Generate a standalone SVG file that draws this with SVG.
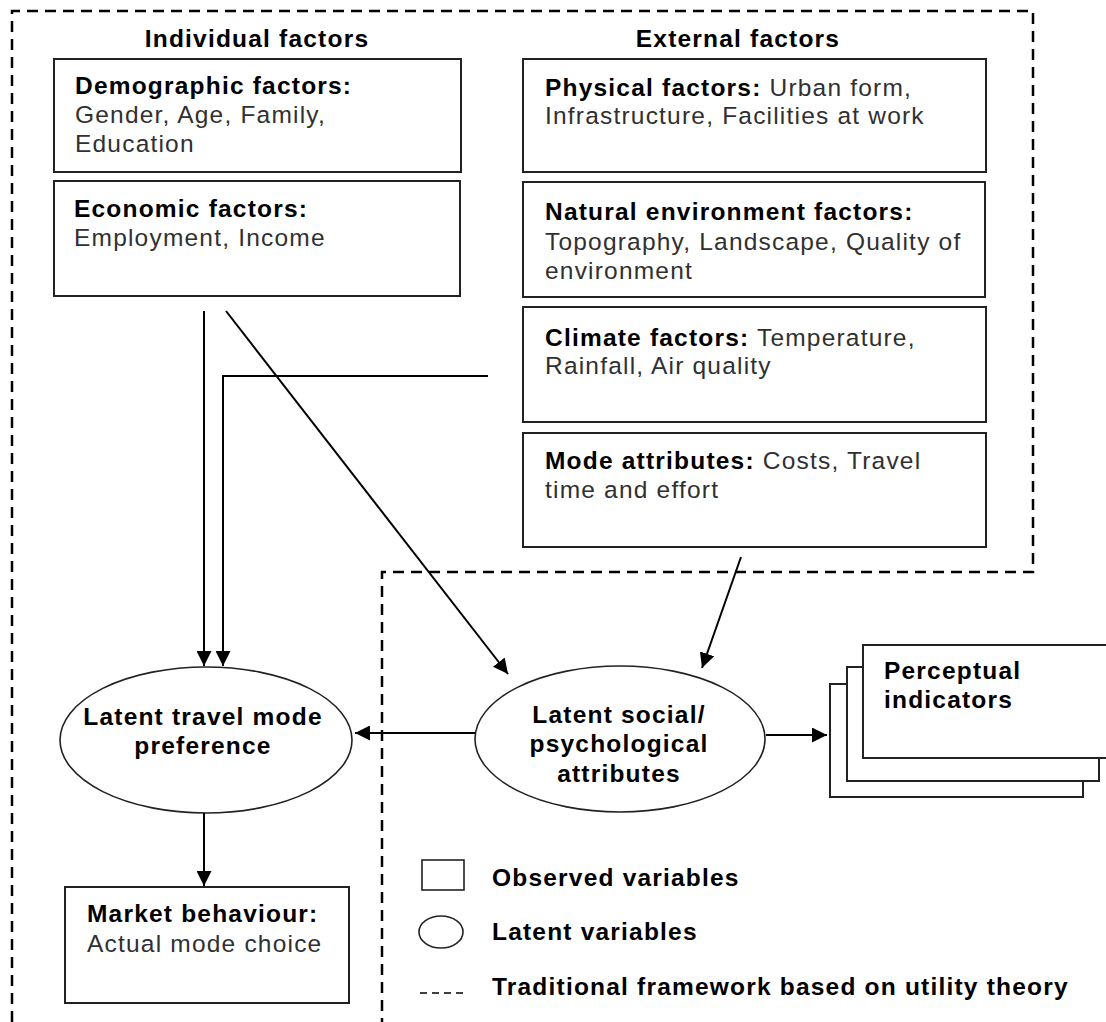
<svg xmlns="http://www.w3.org/2000/svg" width="1106" height="1022" viewBox="0 0 1106 1022">
  <style>
    text { font-family: "Liberation Sans", Arial, sans-serif; font-size: 24.5px; letter-spacing: 1.2px; }
    .b { font-weight: bold; fill: #000; }
    .r { fill: #303030; }
    .c { text-anchor: middle; }
    .box { fill: #fff; stroke: #222; stroke-width: 2; }
    .ell { fill: #fff; stroke: #222; stroke-width: 1.6; }
    .frame { fill: none; stroke: #000; stroke-width: 2.5; stroke-dasharray: 11 7; }
    .edge { fill: none; stroke: #000; stroke-width: 2; }
  </style>
  <defs>
    <marker id="arrow" markerUnits="userSpaceOnUse" markerWidth="16" markerHeight="15" refX="15" refY="7.5" orient="auto">
      <path d="M0,0 L15,7.5 L0,15 z" fill="#000"/>
    </marker>
  </defs>

  <rect width="1106" height="1022" fill="#fff"/>

  <!-- traditional utility-theory framework boundary -->
  <path class="frame" d="M12,1022 L12,11 L1033,11 L1033,572 L382,572 L382,1022"/>

  <!-- column headings -->
  <text class="b c" x="257" y="47">Individual factors</text>
  <text class="b c" x="738" y="47">External factors</text>

  <!-- individual factors -->
  <g id="demographic">
    <rect class="box" x="54" y="59" width="407" height="113"/>
    <text class="b" x="75" y="94">Demographic factors:</text>
    <text class="r" x="75" y="123">Gender, Age, Family,</text>
    <text class="r" x="75" y="152">Education</text>
  </g>
  <g id="economic">
    <rect class="box" x="54" y="181" width="406" height="115"/>
    <text class="b" x="74" y="217">Economic factors:</text>
    <text class="r" x="74" y="246">Employment, Income</text>
  </g>

  <!-- external factors -->
  <g id="physical">
    <rect class="box" x="523" y="59" width="463" height="113"/>
    <text x="545" y="96"><tspan class="b">Physical factors:</tspan><tspan class="r"> Urban form,</tspan></text>
    <text class="r" x="545" y="124">Infrastructure, Facilities at work</text>
  </g>
  <g id="natural">
    <rect class="box" x="523" y="182" width="462" height="115"/>
    <text class="b" x="545" y="220">Natural environment factors:</text>
    <text class="r" x="545" y="250">Topography, Landscape, Quality of</text>
    <text class="r" x="545" y="279">environment</text>
  </g>
  <g id="climate">
    <rect class="box" x="523" y="307" width="463" height="115"/>
    <text x="545" y="346"><tspan class="b">Climate factors:</tspan><tspan class="r"> Temperature,</tspan></text>
    <text class="r" x="545" y="374">Rainfall, Air quality</text>
  </g>
  <g id="mode-attributes">
    <rect class="box" x="523" y="433" width="463" height="114"/>
    <text x="545" y="469"><tspan class="b">Mode attributes:</tspan><tspan class="r"> Costs, Travel</tspan></text>
    <text class="r" x="545" y="498">time and effort</text>
  </g>

  <!-- latent variables -->
  <g id="travel-preference">
    <ellipse class="ell" cx="206" cy="740" rx="146" ry="73"/>
    <text class="b c" x="203" y="725">Latent travel mode</text>
    <text class="b c" x="203" y="754">preference</text>
  </g>
  <g id="social-psych">
    <ellipse class="ell" cx="620" cy="739" rx="145" ry="73"/>
    <text class="b c" x="619" y="723">Latent social/</text>
    <text class="b c" x="619" y="752">psychological</text>
    <text class="b c" x="619" y="782">attributes</text>
  </g>

  <!-- observed outcomes -->
  <g id="market">
    <rect class="box" x="65" y="887" width="284" height="116"/>
    <text class="b" x="87" y="922">Market behaviour:</text>
    <text class="r" x="87" y="952">Actual mode choice</text>
  </g>
  <g id="indicators">
    <rect class="box" x="830" y="684" width="253" height="113"/>
    <rect class="box" x="847" y="667" width="252" height="114"/>
    <rect class="box" x="863" y="645" width="260" height="113"/>
    <text class="b" x="884" y="679">Perceptual</text>
    <text class="b" x="884" y="708">indicators</text>
  </g>

  <!-- connectors -->
  <g id="connectors">
    <line class="edge" x1="204" y1="311" x2="204" y2="666" marker-end="url(#arrow)"/>
    <polyline class="edge" points="488,376 223,376 223,666" marker-end="url(#arrow)"/>
    <line class="edge" x1="226" y1="311" x2="508" y2="674" marker-end="url(#arrow)"/>
    <line class="edge" x1="741" y1="557" x2="702" y2="668" marker-end="url(#arrow)"/>
    <line class="edge" x1="475" y1="733" x2="355" y2="733" marker-end="url(#arrow)"/>
    <line class="edge" x1="766" y1="735" x2="827" y2="735" marker-end="url(#arrow)"/>
    <line class="edge" x1="204" y1="813" x2="204" y2="886" marker-end="url(#arrow)"/>
  </g>

  <!-- legend -->
  <g id="legend">
    <rect x="422" y="860" width="42" height="30" fill="#fff" stroke="#222" stroke-width="1.6"/>
    <text class="b" x="492" y="886">Observed variables</text>
    <ellipse cx="441" cy="932" rx="22" ry="16" fill="#fff" stroke="#222" stroke-width="1.6"/>
    <text class="b" x="492" y="940">Latent variables</text>
    <line x1="420" y1="993" x2="466" y2="993" stroke="#000" stroke-width="1.6" stroke-dasharray="7 5"/>
    <text class="b" x="492" y="995">Traditional framework based on utility theory</text>
  </g>
</svg>
